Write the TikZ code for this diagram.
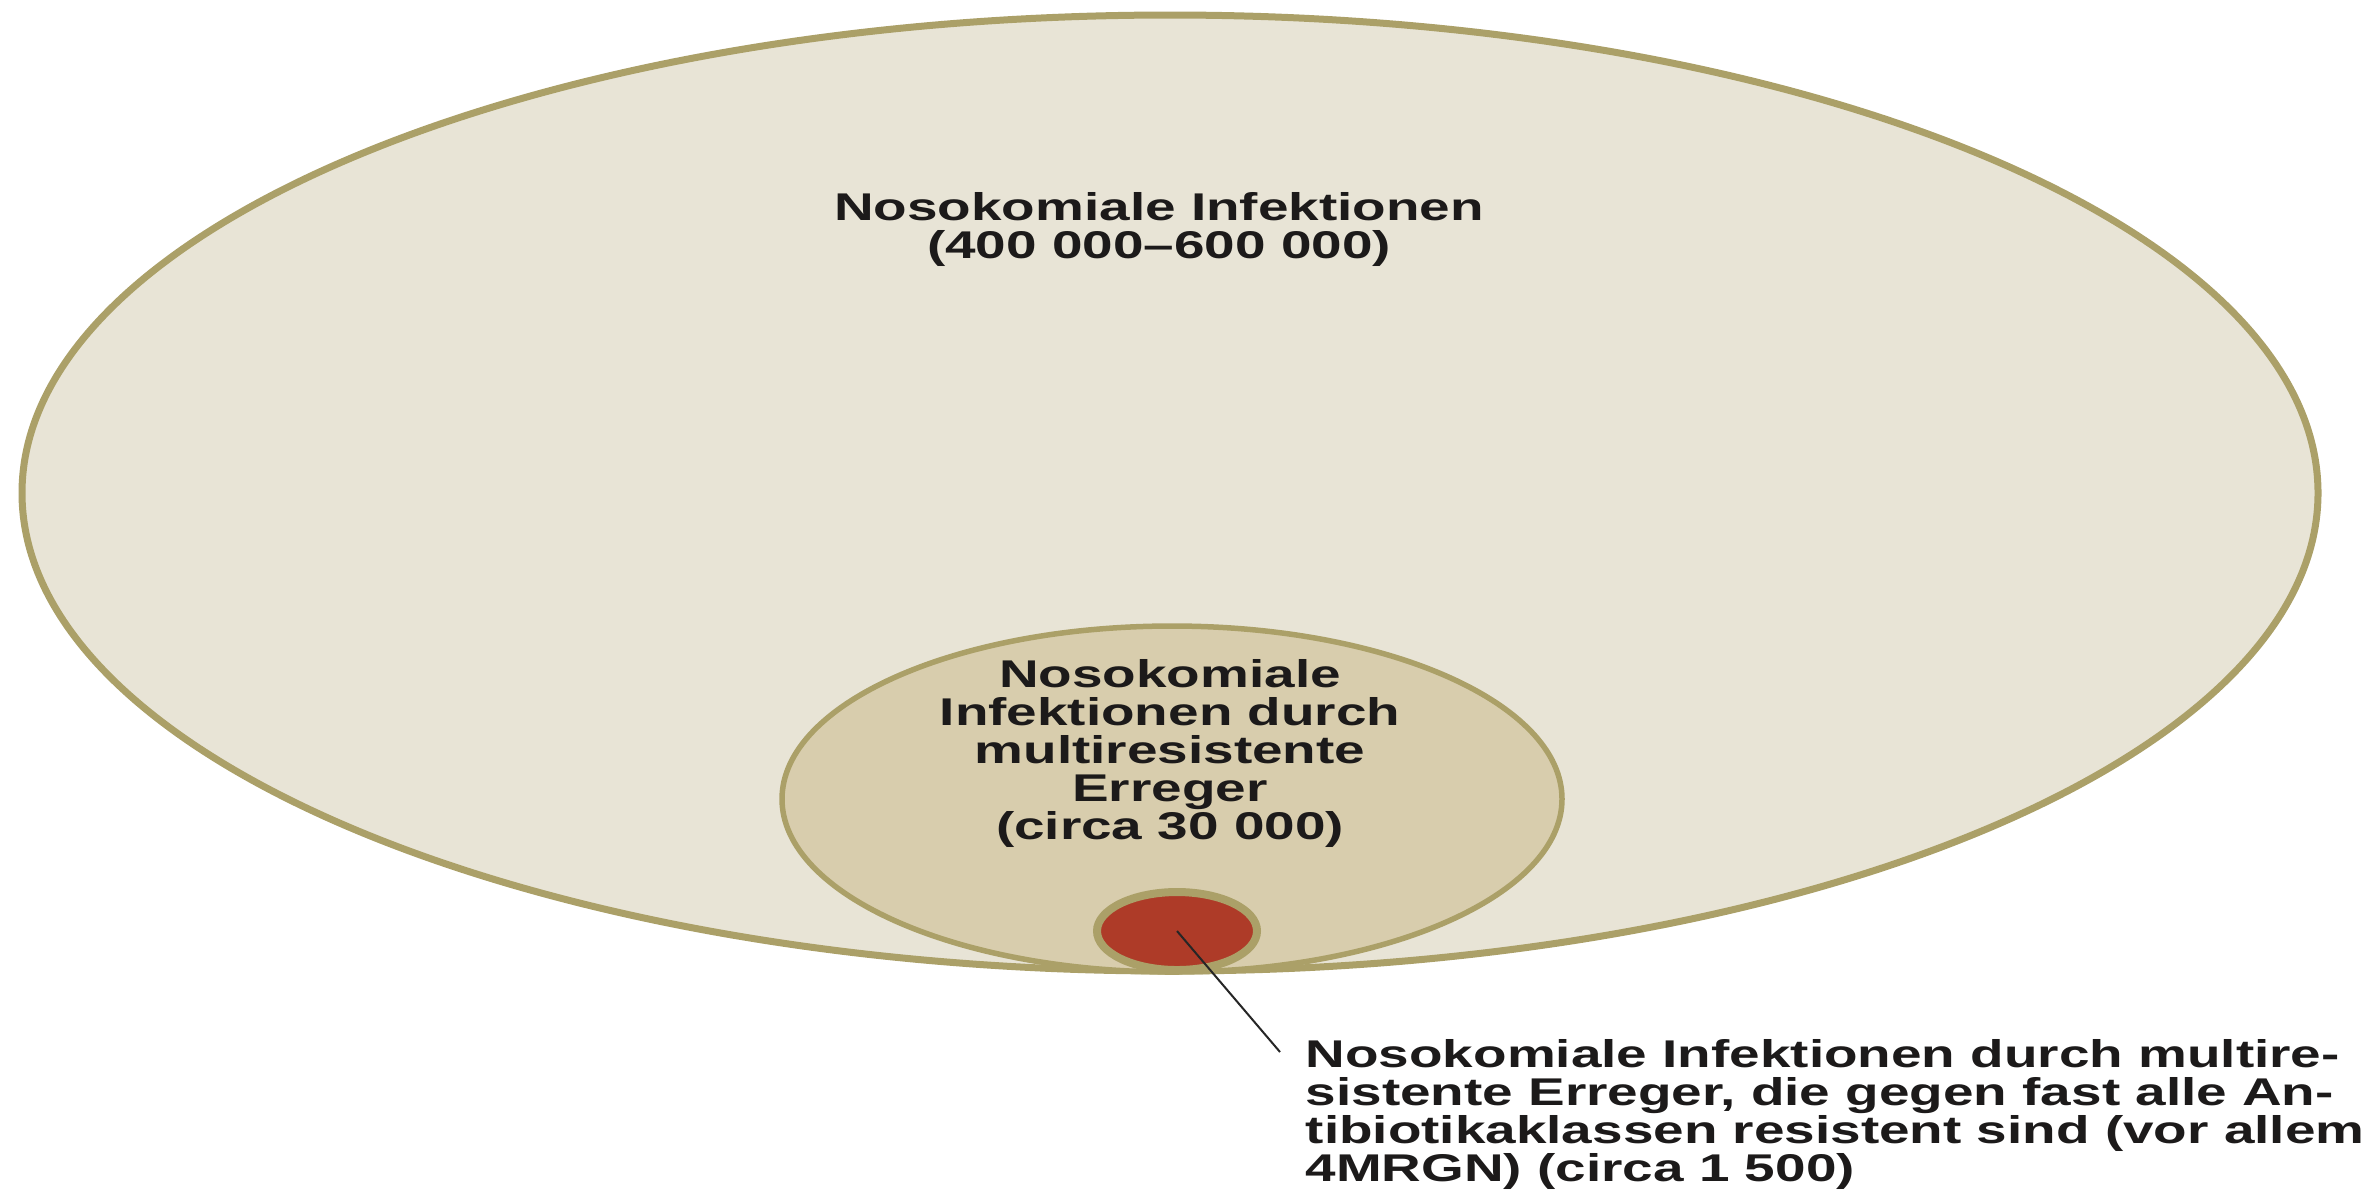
\documentclass[tikz,border=0pt]{standalone}
\usepackage{fontspec}
\setmainfont{Liberation Sans}[FakeStretch=1.42]
\usepackage{xcolor}
\definecolor{cOuter}{HTML}{E8E4D6}
\definecolor{cMid}{HTML}{D8CDAD}
\definecolor{cRand}{HTML}{ABA068}
\definecolor{cRot}{HTML}{AE3B28}
\definecolor{cText}{HTML}{1C1A1A}
\usetikzlibrary{shapes.geometric}

\begin{document}
\begin{tikzpicture}[x=0.1mm, y=-0.1mm,
    menge/.style = {ellipse, draw=cRand, inner sep=0pt},
    txt/.style   = {inner sep=0pt, text=cText,
                    font=\fontsize{11}{10.8}\selectfont\bfseries},
    lead/.style  = {draw=black!85, line width=0.2mm}
]
\useasboundingbox (0,0) rectangle (2366,1190);

% --- Mengen: alle beruehren sich unten -----------------------------------
\node[menge, fill=cOuter, line width=0.7mm,
      minimum width=229.6mm, minimum height=95.6mm] (alle) at (1170,493) {};
\node[menge, fill=cMid, line width=0.55mm,
      minimum width=78mm, minimum height=34.6mm] (mre) at (1172,799) {};
\node[menge, fill=cRot, line width=0.8mm,
      minimum width=16mm, minimum height=7.8mm] (mrgn) at (1177,931) {};

% --- Beschriftungen ------------------------------------------------------
\node[txt, align=center, anchor=north] (tAlle) at (1159,192)
  {Nosokomiale Infektionen\\(400~000–600~000)};
\node[txt, align=center, anchor=north] (tMre) at (1170,659)
  {Nosokomiale\\Infektionen durch\\multiresistente\\Erreger\\(circa 30~000)};
\node[txt, align=left, anchor=north west] (tMrgn) at (1305,1039)
  {Nosokomiale Infektionen durch multire-\\sistente Erreger, die gegen fast alle An-\\%
   tibiotikaklassen resistent sind (vor allem\\4MRGN) (circa 1~500)};

% --- Hinweislinie vom roten Kern zum Text --------------------------------
\coordinate (knick) at (1280,1052);
\draw[lead] (mrgn.center) -- (knick);
\end{tikzpicture}
\end{document}
